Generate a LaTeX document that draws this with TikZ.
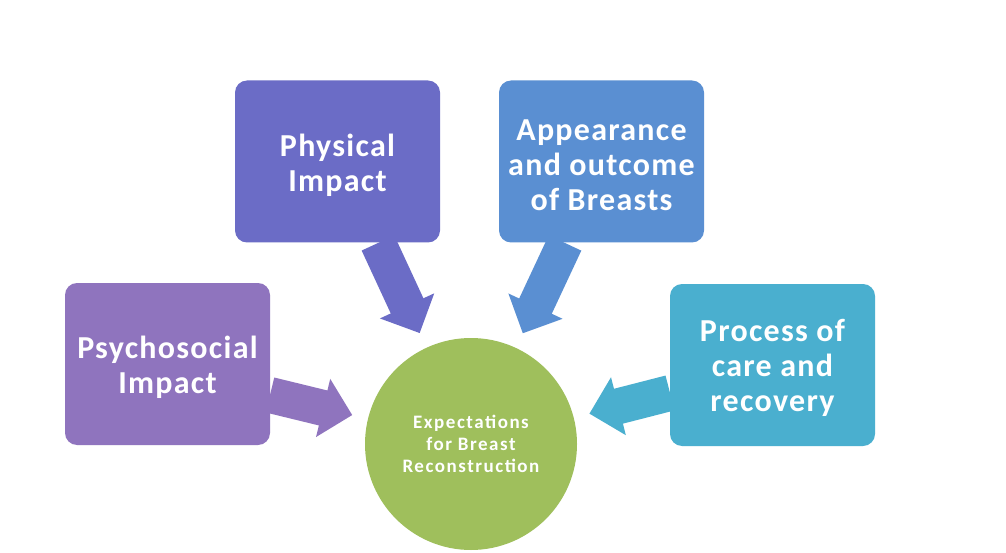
\documentclass[tikz,border=0pt]{standalone}
\usepackage{fontspec}
\setmainfont{Carlito}
\newfontfamily\boxfont{Carlito}[LetterSpace=4]
\newfontfamily\circfont{Carlito}[LetterSpace=8]
\usetikzlibrary{arrows.meta,calc}
\definecolor{cphys}{HTML}{6B6CC6}
\definecolor{capp}{HTML}{5A8FD2}
\definecolor{cpsy}{HTML}{8F74BE}
\definecolor{cproc}{HTML}{4AAFCF}
\definecolor{ccirc}{HTML}{9FBF5C}
\tikzset{
  box/.style={rounded corners=12pt, minimum width=205pt, minimum height=162pt,
    inner sep=0pt},
  boxtext/.style={text=white, align=center, inner sep=0pt,
    font=\boxfont\fontsize{32}{35}\selectfont\bfseries},
  fat/.style={line width=36pt, shorten >=16pt,
    -{Triangle[width=58pt,length=30pt]}},
}
\begin{document}
\begin{tikzpicture}[x=1pt,y=-1pt]
\useasboundingbox[fill=white] (0,0) rectangle (1006,553);
\node[box, fill=cphys] (phys) at (337.5,161.5) {};
\node[box, fill=capp] (app) at (601.5,161.5) {};
\node[box, fill=cpsy] (psy) at (167.5,364) {};
\node[box, fill=cproc] (proc) at (772.5,365) {};
\node[boxtext] (physT) at ($(phys.center)+(0,4)$) {Physical\\Impact};
\node[boxtext] (appT) at ($(app.center)+(0,4)$) {Appearance\\and outcome\\of Breasts};
\node[boxtext] (psyT) at ($(psy.center)+(0,3)$) {Psychosocial\\Impact};
\node[boxtext] (procT) at ($(proc.center)+(0,3)$) {Process of\\care and\\recovery};
\node[circle, fill=ccirc, minimum size=212pt, inner sep=0pt, text=white, align=center,
  font=\circfont\fontsize{19}{22}\selectfont\bfseries] (circ) at (471,444)
  {Expectations\\for Breast\\Reconstruction};
\coordinate (pa) at (378,243);
\coordinate (aa) at (565,243);
\coordinate (sa) at (270,395);
\coordinate (ra) at (670,393);
\draw[fat, draw=cphys, fill=cphys] (pa) -- (circ);
\draw[fat, draw=capp, fill=capp] (aa) -- (circ);
\draw[fat, draw=cpsy, fill=cpsy] (sa) -- (circ);
\draw[fat, draw=cproc, fill=cproc] (ra) -- (circ);
\end{tikzpicture}
\end{document}
